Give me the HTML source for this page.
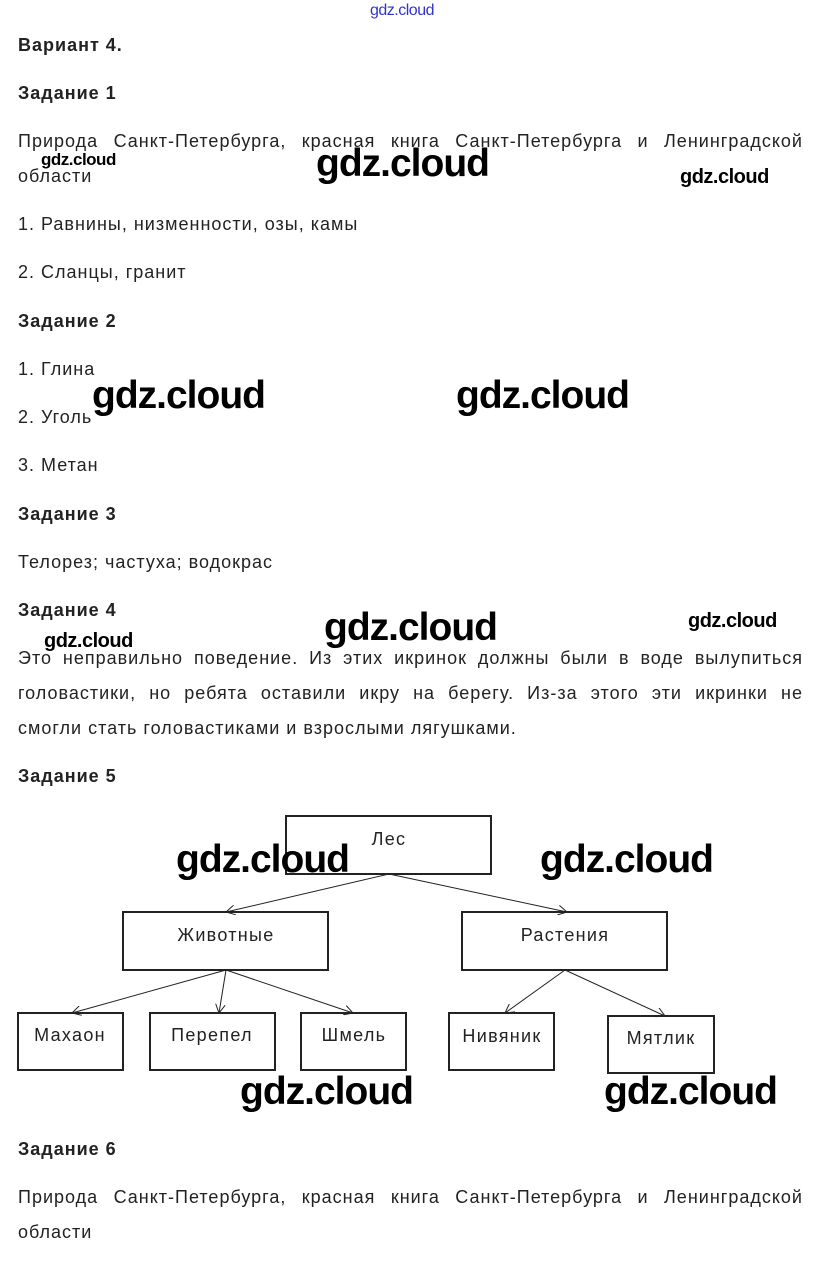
<!DOCTYPE html>
<html><head><meta charset="utf-8"><style>
body{margin:0;width:817px;height:1275px;background:#fff;position:relative;overflow:hidden;font-family:"Liberation Sans",Arial,sans-serif;color:#222;}
.t{position:absolute;left:18px;font-size:18px;line-height:20px;white-space:nowrap;letter-spacing:1px;}
.b{font-weight:bold;font-size:18px;}
.j{position:absolute;left:18px;width:785px;font-size:18px;letter-spacing:1px;text-align:justify;text-align-last:justify;white-space:nowrap;}
.w{position:absolute;font-weight:bold;color:#000;white-space:nowrap;letter-spacing:-0.5px;}
.L{font-size:39px;letter-spacing:-1px;}
</style></head><body>
<div class="w" style="left:370px;top:2px;font-size:16px;font-weight:normal;color:#3333cc;">gdz.cloud</div>
<div class="t b" style="top:35px">Вариант 4.</div>
<div class="t b" style="top:83px">Задание 1</div>
<div class="j" style="top:131px">Природа Санкт-Петербурга, красная книга Санкт-Петербурга и Ленинградской</div>
<div class="t" style="top:166px">области</div>
<div class="t" style="top:214px">1. Равнины, низменности, озы, камы</div>
<div class="t" style="top:262px">2. Сланцы, гранит</div>
<div class="t b" style="top:311px">Задание 2</div>
<div class="t" style="top:359px">1. Глина</div>
<div class="t" style="top:407px">2. Уголь</div>
<div class="t" style="top:455px">3. Метан</div>
<div class="t b" style="top:504px">Задание 3</div>
<div class="t" style="top:552px">Телорез; частуха; водокрас</div>
<div class="t b" style="top:600px">Задание 4</div>
<div class="j" style="top:648px">Это неправильно поведение. Из этих икринок должны были в воде вылупиться</div>
<div class="j" style="top:683px">головастики, но ребята оставили икру на берегу. Из-за этого эти икринки не</div>
<div class="t" style="top:718px">смогли стать головастиками и взрослыми лягушками.</div>
<div class="t b" style="top:766px">Задание 5</div>
<div class="t b" style="top:1139px">Задание 6</div>
<div class="j" style="top:1187px">Природа Санкт-Петербурга, красная книга Санкт-Петербурга и Ленинградской</div>
<div class="t" style="top:1222px">области</div>

<svg style="position:absolute;left:0;top:0" width="817" height="1275">
<defs><marker id="a" markerWidth="10" markerHeight="10" refX="9" refY="5" orient="auto" markerUnits="userSpaceOnUse"><path d="M0,0 L9,5 L0,10" fill="none" stroke="#222" stroke-width="1"/></marker></defs>
<g fill="none" stroke="#222" stroke-width="2">
<rect x="286" y="816" width="205" height="58"/>
<rect x="123" y="912" width="205" height="58"/>
<rect x="462" y="912" width="205" height="58"/>
<rect x="18" y="1013" width="105" height="57"/>
<rect x="150" y="1013" width="125" height="57"/>
<rect x="301" y="1013" width="105" height="57"/>
<rect x="449" y="1013" width="105" height="57"/>
<rect x="608" y="1016" width="106" height="57"/>
</g>
<g stroke="#222" stroke-width="1" marker-end="url(#a)">
<line x1="389" y1="874" x2="226" y2="912"/>
<line x1="389" y1="874" x2="567" y2="912"/>
<line x1="226" y1="970" x2="72" y2="1013"/>
<line x1="226" y1="970" x2="219" y2="1013"/>
<line x1="226" y1="970" x2="353" y2="1013"/>
<line x1="565" y1="970" x2="505" y2="1013"/>
<line x1="565" y1="970" x2="665" y2="1016"/>
</g>
<g font-family="Liberation Sans,Arial,sans-serif" font-size="18" fill="#222" text-anchor="middle" letter-spacing="1.3">
<text x="389" y="845">Лес</text>
<text x="226" y="941">Животные</text>
<text x="565" y="941">Растения</text>
<text x="70" y="1041">Махаон</text>
<text x="212" y="1041">Перепел</text>
<text x="354" y="1041">Шмель</text>
<text x="502" y="1042">Нивяник</text>
<text x="661" y="1044">Мятлик</text>
</g>
</svg>

<div class="w" style="left:41px;top:150px;font-size:17px;">gdz.cloud</div>
<div class="w L" style="left:316px;top:142px;">gdz.cloud</div>
<div class="w" style="left:680px;top:166px;font-size:20px;">gdz.cloud</div>
<div class="w L" style="left:92px;top:374px;">gdz.cloud</div>
<div class="w L" style="left:456px;top:374px;">gdz.cloud</div>
<div class="w L" style="left:324px;top:606px;">gdz.cloud</div>
<div class="w" style="left:44px;top:630px;font-size:20px;">gdz.cloud</div>
<div class="w" style="left:688px;top:610px;font-size:20px;">gdz.cloud</div>
<div class="w L" style="left:176px;top:838px;">gdz.cloud</div>
<div class="w L" style="left:540px;top:838px;">gdz.cloud</div>
<div class="w L" style="left:240px;top:1070px;">gdz.cloud</div>
<div class="w L" style="left:604px;top:1070px;">gdz.cloud</div>
</body></html>
